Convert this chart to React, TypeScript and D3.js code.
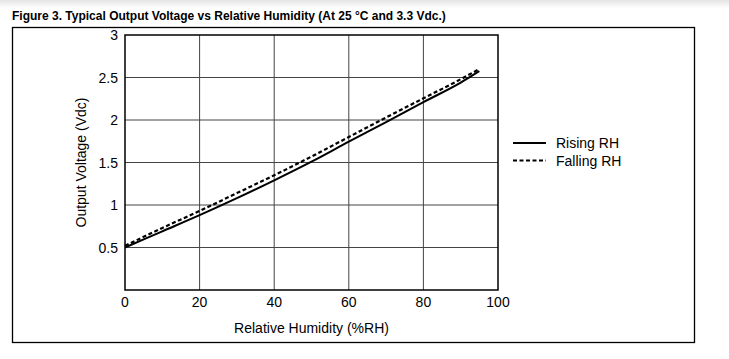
import React, { useEffect, useRef } from 'react';
import * as d3 from 'd3';

const humidity = [0, 10, 20, 30, 40, 50, 60, 70, 80, 90, 95];
const risingRH = [0.5, 0.69, 0.88, 1.08, 1.29, 1.51, 1.745, 1.975, 2.21, 2.44, 2.575];
const fallingRH = [0.52, 0.73, 0.93, 1.14, 1.35, 1.57, 1.8, 2.03, 2.255, 2.48, 2.6];
const xTicks = [0, 20, 40, 60, 80, 100];
const yTicks = [0.5, 1, 1.5, 2, 2.5, 3];
const seriesNames = ['Rising RH', 'Falling RH'];

const App: React.FC = () => {
  const svgRef = useRef<SVGSVGElement>(null);

  useEffect(() => {
    if (!svgRef.current) return;
    const svg = d3.select(svgRef.current);
    svg.selectAll('*').remove();

    const width = 729;
    const height = 359;
    const font = '"Liberation Sans", Arial, sans-serif';
    const margin = { top: 35, right: 231, bottom: 69, left: 125 };

    const x = d3.scaleLinear().domain([0, 100]).range([margin.left, width - margin.right]);
    const y = d3.scaleLinear().domain([0, 3]).range([height - margin.bottom, margin.top]);

    // faint shadow at the top of the page
    const grad = svg.append('defs').append('linearGradient')
      .attr('id', 'top-shade')
      .attr('x1', '0%').attr('y1', '0%').attr('x2', '0%').attr('y2', '100%');
    grad.append('stop').attr('offset', '0%').attr('stop-color', '#e4e4e4');
    grad.append('stop').attr('offset', '100%').attr('stop-color', '#ffffff');
    svg.append('rect').attr('width', width).attr('height', 8).attr('fill', 'url(#top-shade)');

    svg.append('text')
      .attr('x', 12).attr('y', 20)
      .attr('font-family', font).attr('font-size', 12).attr('font-weight', 'bold')
      .attr('fill', '#000')
      .text('Figure 3. Typical Output Voltage vs Relative Humidity (At 25 °C and 3.3 Vdc.)');

    svg.append('rect')
      .attr('x', 12.5).attr('y', 27.5).attr('width', 682).attr('height', 315)
      .attr('fill', 'none').attr('stroke', '#000').attr('stroke-width', 1.3);

    // grid
    const grid = svg.append('g').attr('stroke', '#444').attr('stroke-width', 1);
    xTicks.slice(1, -1).forEach((t) => {
      grid.append('line')
        .attr('x1', x(t)).attr('x2', x(t))
        .attr('y1', y(0)).attr('y2', y(3));
    });
    yTicks.slice(0, -1).forEach((t) => {
      grid.append('line')
        .attr('x1', x(0)).attr('x2', x(100))
        .attr('y1', y(t)).attr('y2', y(t));
    });

    svg.append('rect')
      .attr('x', x(0)).attr('y', y(3))
      .attr('width', x(100) - x(0)).attr('height', y(0) - y(3))
      .attr('fill', 'none').attr('stroke', '#000').attr('stroke-width', 1.5);

    // tick labels
    svg.append('g').selectAll('text').data(xTicks).join('text')
      .attr('x', (d) => x(d)).attr('y', y(0) + 17)
      .attr('text-anchor', 'middle')
      .attr('font-family', font).attr('font-size', 14)
      .text((d) => String(d));

    svg.append('g').selectAll('text').data(yTicks).join('text')
      .attr('x', x(0) - 7).attr('y', (d) => y(d) + 5)
      .attr('text-anchor', 'end')
      .attr('font-family', font).attr('font-size', 14)
      .text((d) => String(d));

    svg.append('text')
      .attr('x', (x(0) + x(100)) / 2).attr('y', 333)
      .attr('text-anchor', 'middle')
      .attr('font-family', font).attr('font-size', 14)
      .text('Relative Humidity (%RH)');

    svg.append('text')
      .attr('transform', `translate(86,${(y(0) + y(3)) / 2}) rotate(-90)`)
      .attr('text-anchor', 'middle')
      .attr('font-family', font).attr('font-size', 14)
      .text('Output Voltage (Vdc)');

    const line = d3.line<number>()
      .x((_: number, i: number) => x(humidity[i]))
      .y((d: number) => y(d))
      .curve(d3.curveMonotoneX);

    svg.append('path')
      .datum(fallingRH)
      .attr('fill', 'none').attr('stroke', '#000')
      .attr('stroke-width', 2.2).attr('stroke-dasharray', '4,2.5')
      .attr('d', line);

    svg.append('path')
      .datum(risingRH)
      .attr('fill', 'none').attr('stroke', '#000')
      .attr('stroke-width', 2)
      .attr('d', line);

    // legend
    const legend = svg.append('g').attr('transform', 'translate(513,143)');
    seriesNames.forEach((name, i) => {
      const gy = i * 17.5;
      legend.append('line')
        .attr('x1', 0).attr('x2', 33).attr('y1', gy).attr('y2', gy)
        .attr('stroke', '#000').attr('stroke-width', 2)
        .attr('stroke-dasharray', i === 1 ? '4,2.5' : null);
      legend.append('text')
        .attr('x', 43).attr('y', gy + 5)
        .attr('font-family', font).attr('font-size', 14)
        .text(name);
    });
  }, []);

  return (
    <svg
      ref={svgRef}
      width={729}
      height={359}
      style={{ position: 'absolute', left: 0, top: 0, background: '#fff' }}
    />
  );
};

export default App;
